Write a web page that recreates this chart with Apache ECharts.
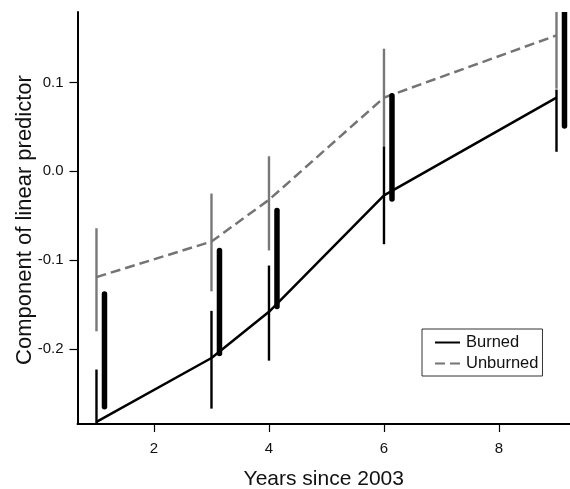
<!DOCTYPE html>
<html>
<head>
<meta charset="utf-8">
<script src="https://cdn.jsdelivr.net/npm/echarts@6/dist/echarts.min.js"></script>
<style>html,body{margin:0;padding:0;background:#fff}#c{width:570px;height:489px}</style>
</head>
<body>
<div id="c"></div>
<script>
// Data
const years = [1, 3, 4, 6, 9];
const burned = [-0.282, -0.210, -0.158, -0.027, 0.083];
const unburned = [-0.119, -0.079, -0.032, 0.083, 0.153];
const unburnedLo = [-0.180, -0.135, -0.089, 0.028, 0.093];
const unburnedHi = [-0.064, -0.025, 0.017, 0.138, 0.213];
const burnedLo = [-0.341, -0.267, -0.213, -0.082, 0.022];
const burnedHi = [-0.223, -0.157, -0.106, 0.028, 0.092];
const diffLo = [-0.265, -0.205, -0.152, -0.031, 0.051];
const diffHi = [-0.138, -0.089, -0.044, 0.085, 0.185];
const xTicks = [2, 4, 6, 8];
const yTicks = [-0.2, -0.1, 0.0, 0.1];

const chart = echarts.init(document.getElementById('c'));

function barSeries(name, lo, hi, color, width, dx, cap, z) {
  return {
    name: name,
    type: 'custom',
    clip: true,
    z: z,
    silent: true,
    data: years.map((x, i) => [x, lo[i], hi[i]]),
    renderItem: function (params, api) {
      const a = api.coord([api.value(0), api.value(1)]);
      const b = api.coord([api.value(0), api.value(2)]);
      return {
        type: 'line',
        shape: { x1: a[0] + dx, y1: a[1], x2: b[0] + dx, y2: b[1] },
        style: { stroke: color, lineWidth: width, lineCap: cap }
      };
    }
  };
}

const font = 'Liberation Sans, Arial, sans-serif';

chart.setOption({
  animation: false,
  backgroundColor: '#fff',
  grid: { left: 77.5, right: 0, top: 12, bottom: 65, outerBoundsMode: 'none', containLabel: false },
  graphic: [
    {
      type: 'text',
      x: 25, y: 220,
      rotation: Math.PI / 2,
      style: {
        text: 'Component of linear predictor',
        fontFamily: font, fontSize: 22, fill: '#111',
        textAlign: 'center', textVerticalAlign: 'middle'
      }
    }
  ],
  legend: {
    data: [
      { name: 'Burned' },
      { name: 'Unburned' }
    ],
    orient: 'vertical',
    left: 422,
    top: 329,
    itemWidth: 25,
    itemHeight: 14,
    itemGap: 4,
    padding: [5, 4, 4, 12],
    borderColor: '#333',
    borderWidth: 1,
    borderRadius: 0,
    itemStyle: { opacity: 0 },
    textStyle: { fontFamily: font, fontSize: 16.5, color: '#111', padding: [0, 0, 0, 1] }
  },
  xAxis: {
    type: 'value',
    min: 0.67,
    max: 9.235,
    name: 'Years since 2003',
    nameLocation: 'middle',
    nameGap: 45,
    nameTextStyle: { fontFamily: font, fontSize: 21, color: '#111' },
    axisLine: { onZero: false, lineStyle: { color: '#000', width: 2 } },
    axisTick: { show: true, customValues: xTicks, length: 8, lineStyle: { color: '#000', width: 1.2 } },
    axisLabel: { customValues: xTicks, margin: 17, fontFamily: font, fontSize: 15, color: '#111' },
    splitLine: { show: false }
  },
  yAxis: {
    type: 'value',
    min: -0.2843,
    max: 0.1793,
    axisLine: { show: true, onZero: false, lineStyle: { color: '#000', width: 2 } },
    axisTick: { show: true, customValues: yTicks, length: 8, lineStyle: { color: '#000', width: 1.2 } },
    axisLabel: {
      customValues: yTicks, margin: 14, fontFamily: font, fontSize: 15, color: '#111',
      formatter: v => v.toFixed(1)
    },
    splitLine: { show: false }
  },
  series: [
    barSeries('unbCI', unburnedLo, unburnedHi, '#787878', 2.4, 0, 'butt', 1),
    barSeries('burCI', burnedLo, burnedHi, '#000', 2.4, 0, 'butt', 2),
    {
      name: 'Burned',
      type: 'line',
      z: 3,
      symbol: 'none',
      data: years.map((x, i) => [x, burned[i]]),
      lineStyle: { color: '#000', width: 2.5 },
      itemStyle: { color: '#000' }
    },
    {
      name: 'Unburned',
      type: 'line',
      z: 3,
      symbol: 'none',
      data: years.map((x, i) => [x, unburned[i]]),
      lineStyle: { color: '#747474', width: 2.5, type: [10, 5] },
      itemStyle: { color: '#747474' }
    },
    barSeries('diffCI', diffLo, diffHi, '#000', 5.5, 8, 'round', 4)
  ]
});
</script>
</body>
</html>
